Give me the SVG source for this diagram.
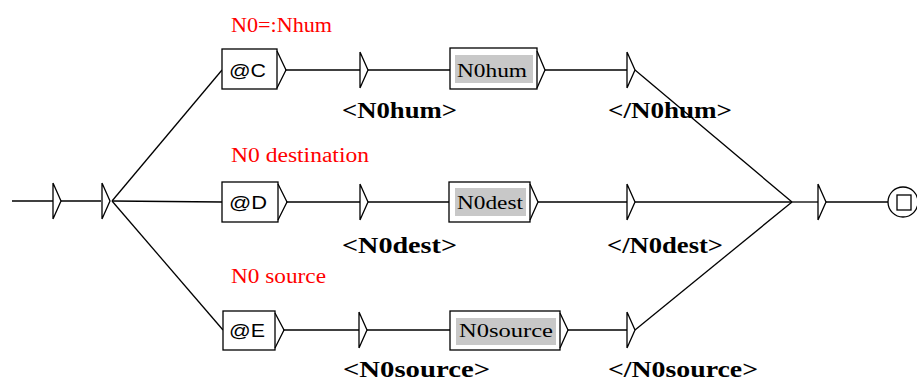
<svg xmlns="http://www.w3.org/2000/svg" width="917" height="381" viewBox="0 0 917 381">
<style>
.ln{stroke:#000;stroke-width:1.3;fill:none}
.st{stroke:#000;stroke-width:1.3;fill:#fff}
.box{stroke:#000;stroke-width:1.3;fill:#fff}
.gray{fill:#c8c8c8;stroke:none}
.red{font-family:"Liberation Serif",serif;font-size:20px;fill:#ff0000}
.tag{font-family:"Liberation Serif",serif;font-size:24px;font-weight:bold;fill:#000}
.lab{font-family:"Liberation Sans",sans-serif;font-size:19px;fill:#000}
.glab{font-family:"Liberation Serif",serif;font-size:19px;fill:#000}
</style>
<defs>
<path id="tri" d="M0,-18 L0,18 M0,-18 L8,0 L0,18" class="ln"/>
</defs>
<rect width="917" height="381" fill="#fff"/>
<g id="connectors">
<line class="ln" x1="12" y1="201" x2="53" y2="201"/>
<line class="ln" x1="61" y1="201" x2="101" y2="201"/>
<line class="ln" x1="112" y1="201" x2="222" y2="70"/>
<line class="ln" x1="112" y1="201" x2="222" y2="202"/>
<line class="ln" x1="112" y1="201" x2="223" y2="330"/>
<line class="ln" x1="285" y1="70" x2="360" y2="70"/>
<line class="ln" x1="368" y1="70" x2="450" y2="70"/>
<line class="ln" x1="545" y1="70" x2="627" y2="70"/>
<line class="ln" x1="286" y1="202" x2="360" y2="202"/>
<line class="ln" x1="368" y1="202" x2="449" y2="202"/>
<line class="ln" x1="538" y1="202" x2="627" y2="202"/>
<line class="ln" x1="283" y1="330" x2="359" y2="330"/>
<line class="ln" x1="367" y1="330" x2="450" y2="330"/>
<line class="ln" x1="568" y1="330" x2="627" y2="330"/>
<line class="ln" x1="635" y1="70" x2="792" y2="202"/>
<line class="ln" x1="635" y1="202" x2="792" y2="202"/>
<line class="ln" x1="635" y1="330" x2="792" y2="202"/>
<line class="ln" x1="792" y1="202" x2="818" y2="202"/>
<line class="ln" x1="826" y1="202" x2="888" y2="202"/>
</g>
<g id="init1"><use href="#tri" x="53" y="201"/></g>
<g id="init2"><use href="#tri" x="102" y="201"/></g>
<g id="nodeC">
<rect class="box" x="222" y="49" width="55" height="40"/>
<path class="ln" d="M277,51 L286,70 L277,88"/>
<text class="lab" x="229" y="77" textLength="37" lengthAdjust="spacingAndGlyphs">@C</text>
</g>
<g id="nodeD">
<rect class="box" x="222" y="182" width="56" height="40"/>
<path class="ln" d="M278,184 L287,202 L278,220"/>
<text class="lab" x="229" y="209" textLength="38" lengthAdjust="spacingAndGlyphs">@D</text>
</g>
<g id="nodeE">
<rect class="box" x="223" y="311" width="52" height="39"/>
<path class="ln" d="M275,313 L284,330 L275,348"/>
<text class="lab" x="229" y="337" textLength="36" lengthAdjust="spacingAndGlyphs">@E</text>
</g>
<g id="tagHumOpen"><use href="#tri" x="360" y="70"/></g>
<g id="tagDestOpen"><use href="#tri" x="360" y="202"/></g>
<g id="tagSrcOpen"><use href="#tri" x="359" y="330"/></g>
<g id="nodeN0hum">
<rect class="box" x="450" y="48" width="87" height="41"/>
<rect class="gray" x="455" y="55" width="78" height="28"/>
<path class="ln" d="M537,51 L545,70 L537,88"/>
<text class="glab" x="457" y="77" textLength="70" lengthAdjust="spacingAndGlyphs">N0hum</text>
</g>
<g id="nodeN0dest">
<rect class="box" x="449" y="182" width="81" height="40"/>
<rect class="gray" x="455" y="188" width="71" height="28"/>
<path class="ln" d="M530,184 L538,202 L530,220"/>
<text class="glab" x="457" y="209" textLength="66" lengthAdjust="spacingAndGlyphs">N0dest</text>
</g>
<g id="nodeN0source">
<rect class="box" x="450" y="311" width="110" height="39"/>
<rect class="gray" x="456" y="318" width="100" height="27"/>
<path class="ln" d="M560,313 L568,330 L560,348"/>
<text class="glab" x="459" y="337" textLength="94" lengthAdjust="spacingAndGlyphs">N0source</text>
</g>
<g id="tagHumClose"><use href="#tri" x="627" y="70"/></g>
<g id="tagDestClose"><use href="#tri" x="627" y="202"/></g>
<g id="tagSrcClose"><use href="#tri" x="627" y="330"/></g>
<g id="merge"><use href="#tri" x="818" y="202"/></g>
<g id="final">
<circle class="st" cx="903" cy="202" r="15"/>
<rect class="box" x="897" y="195" width="14" height="15"/>
</g>
<g id="labels">
<text class="red" x="231" y="32" textLength="101" lengthAdjust="spacingAndGlyphs">N0=:Nhum</text>
<text class="red" x="231" y="162" textLength="138" lengthAdjust="spacingAndGlyphs">N0 destination</text>
<text class="red" x="231" y="283" textLength="95" lengthAdjust="spacingAndGlyphs">N0 source</text>
<text class="tag" x="342" y="118" textLength="115" lengthAdjust="spacingAndGlyphs">&lt;N0hum&gt;</text>
<text class="tag" x="608" y="118" textLength="124" lengthAdjust="spacingAndGlyphs">&lt;/N0hum&gt;</text>
<text class="tag" x="342" y="253" textLength="115" lengthAdjust="spacingAndGlyphs">&lt;N0dest&gt;</text>
<text class="tag" x="607" y="253" textLength="116" lengthAdjust="spacingAndGlyphs">&lt;/N0dest&gt;</text>
<text class="tag" x="343" y="377" textLength="147" lengthAdjust="spacingAndGlyphs">&lt;N0source&gt;</text>
<text class="tag" x="608" y="377" textLength="150" lengthAdjust="spacingAndGlyphs">&lt;/N0source&gt;</text>
</g>
</svg>
